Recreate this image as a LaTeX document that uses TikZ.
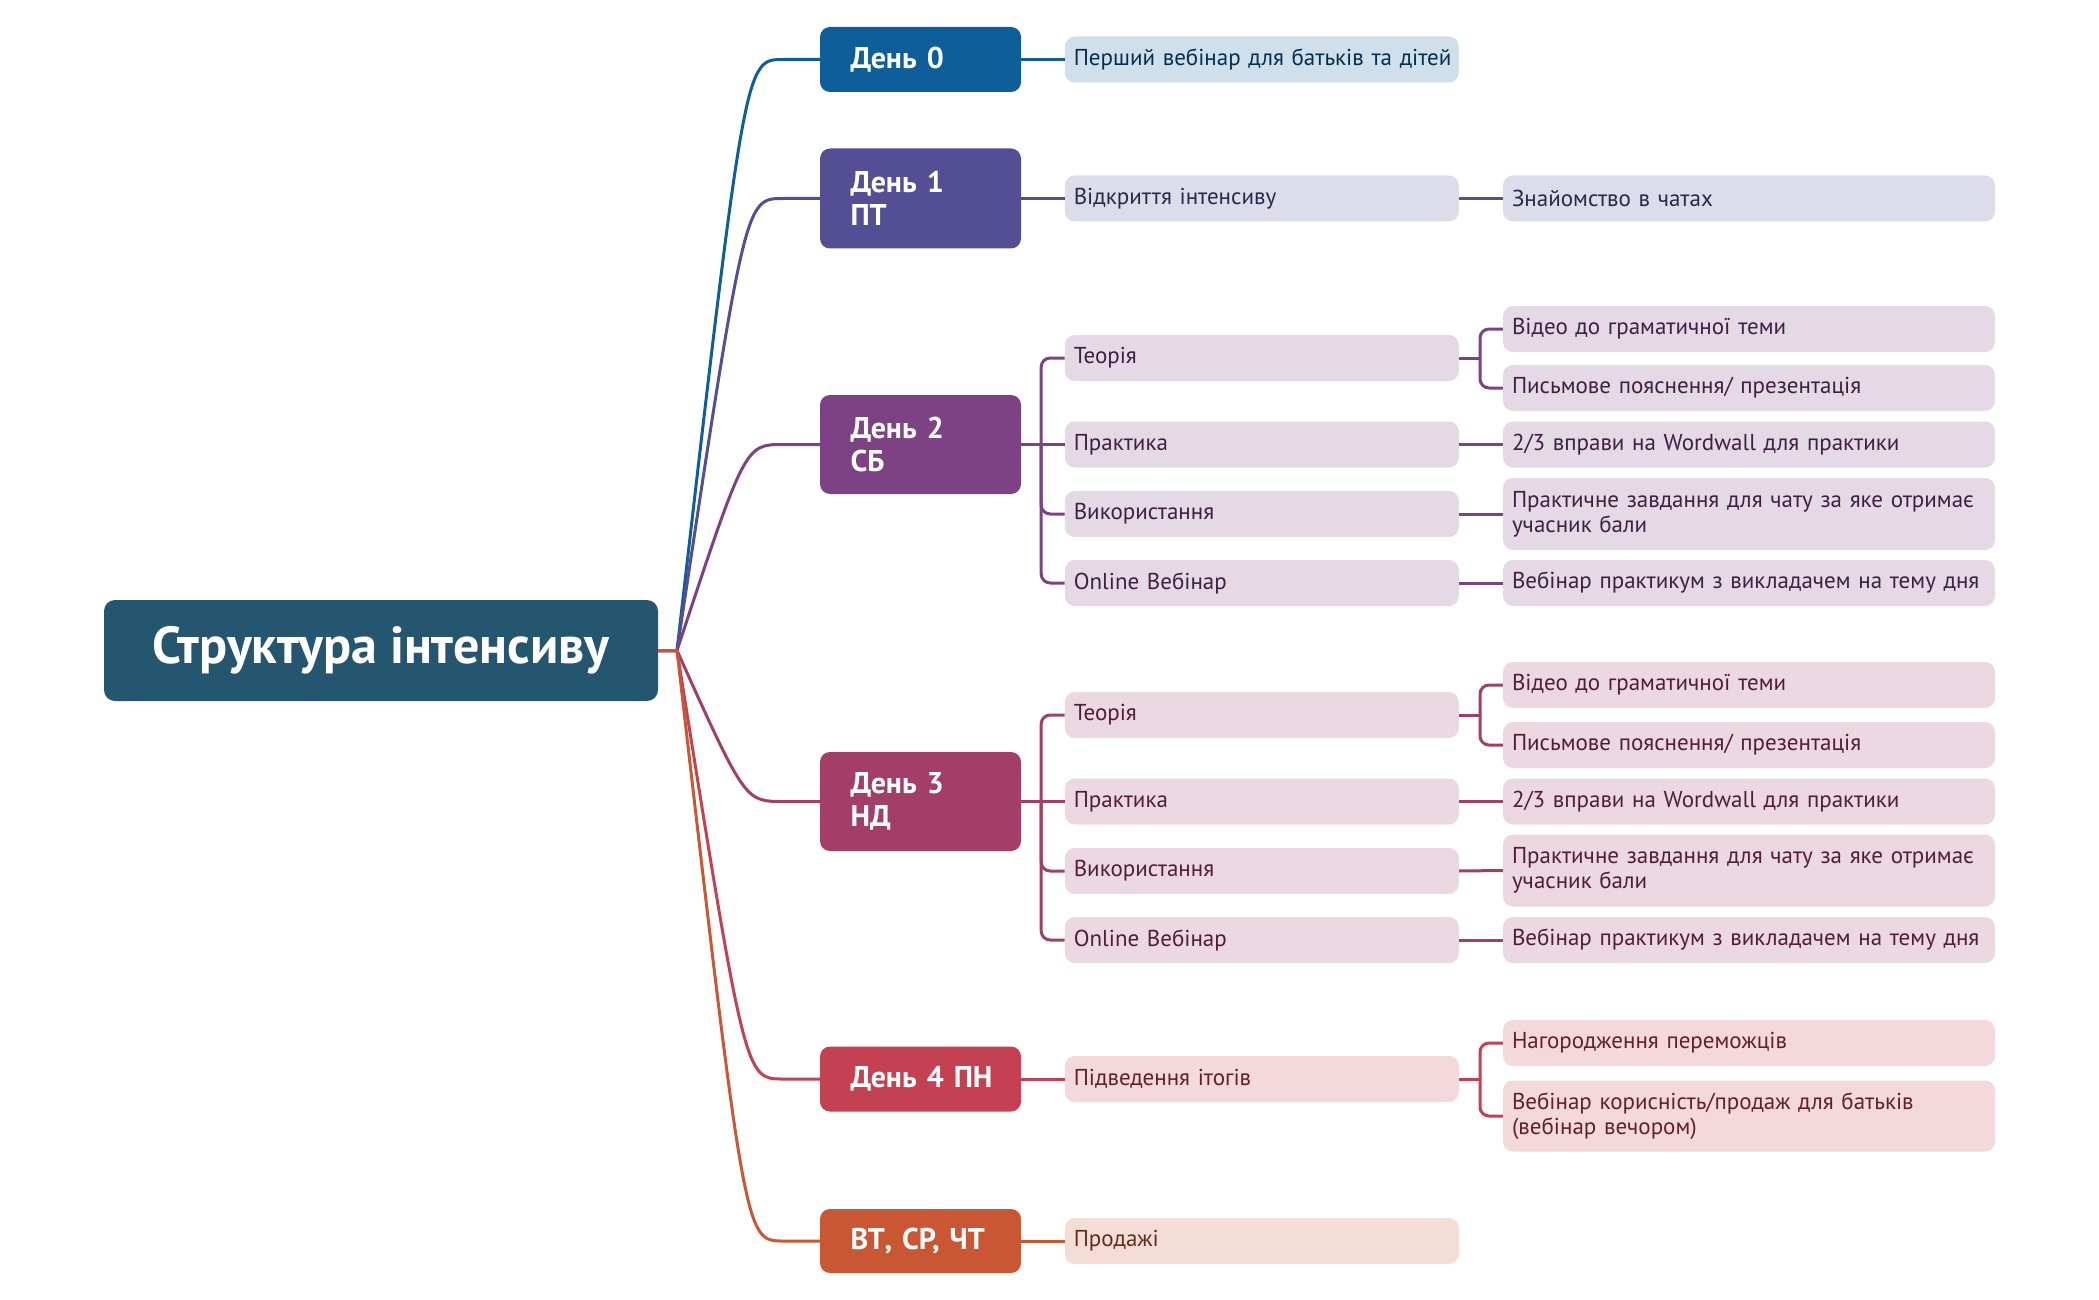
\documentclass[tikz,border=0pt]{standalone}
\usepackage{fontspec}
\setmainfont{PT Sans}
\usetikzlibrary{calc}
\definecolor{cRoot}{HTML}{24566F}
\definecolor{cA}{HTML}{0D5E99}
\definecolor{cB}{HTML}{544F94}
\definecolor{cC}{HTML}{7C4284}
\definecolor{cD}{HTML}{A23E67}
\definecolor{cE}{HTML}{C44152}
\definecolor{cF}{HTML}{C95734}
\tikzset{
  rootbox/.style={rounded corners=11pt, fill=cRoot, text=white, minimum width=554pt, minimum height=101pt,
    font=\fontsize{52pt}{55pt}\selectfont\bfseries, inner sep=0pt},
  daybox/.style={rounded corners=10pt, fill=#1, text=white, text width=140pt, inner xsep=30.5pt, inner ysep=0pt,
    align=left, font=\fontsize{30pt}{33pt}\selectfont\bfseries},
  subbox/.style={rounded corners=10pt, fill=#1!20!white, text=#1!50!black, text width=376pt, inner xsep=9pt,
    inner ysep=0pt, minimum height=46pt, align=left, font=\fontsize{23pt}{25pt}\selectfont},
  leafbox/.style={rounded corners=10pt, fill=#1!20!white, text=#1!50!black, text width=474pt, inner xsep=9pt,
    inner ysep=0pt, minimum height=46pt, align=left, font=\fontsize{23pt}{25pt}\selectfont},
  conn/.style={draw=#1, line width=3pt},
  fork/.style={draw=#1, line width=3pt, rounded corners=9pt},
}
\begin{document}
\begin{tikzpicture}[x=1pt,y=-1pt]
\useasboundingbox (0,0) rectangle (2099,1300);
% root
\node[rootbox] (root) at (381,650.5) {Структура інтенсиву};
\coordinate (hub) at (677,650.5);
\coordinate (cx) at (745,0);
\coordinate (hx) at (783,0);
% day boxes
\node[daybox=cA, minimum height=65pt] (d0) at (920.5,59.5) {\mbox{День 0}};
\node[daybox=cB, minimum height=100pt] (d1) at (920.5,198.5) {\mbox{День 1}\\ПТ};
\node[daybox=cC, minimum height=99pt] (d2) at (920.5,444.5) {\mbox{День 2}\\СБ};
\node[daybox=cD, minimum height=99pt] (d3) at (920.5,801.5) {\mbox{День 3}\\НД};
\node[daybox=cE, minimum height=65pt] (d4) at (920.5,1079) {\mbox{День 4 ПН}};
\node[daybox=cF, minimum height=64pt] (d5) at (920.5,1241) {\mbox{ВТ, СР, ЧТ}};
% level 2
\node[subbox=cA] (a1) at (1261.8,59.5) {\mbox{Перший вебінар для батьків та дітей}};
\node[subbox=cB] (b1) at (1261.8,198.5) {Відкриття інтенсиву};
\node[subbox=cC] (c1) at (1261.8,358) {Теорія};
\node[subbox=cC] (c2) at (1261.8,444.5) {Практика};
\node[subbox=cC] (c3) at (1261.8,514) {Використання};
\node[subbox=cC] (c4) at (1261.8,583) {Online Вебінар};
\node[subbox=cD] (e1) at (1261.8,715) {Теорія};
\node[subbox=cD] (e2) at (1261.8,801.5) {Практика};
\node[subbox=cD] (e3) at (1261.8,871) {Використання};
\node[subbox=cD] (e4) at (1261.8,940) {Online Вебінар};
\node[subbox=cE] (g1) at (1261.8,1079) {Підведення ітогів};
\node[subbox=cF] (h1) at (1261.8,1241) {Продажі};
% level 3
\node[leafbox=cB] (b1a) at (1749,198.5) {Знайомство в чатах};
\node[leafbox=cC] (c1a) at (1749,329) {Відео до граматичної теми};
\node[leafbox=cC] (c1b) at (1749,388) {Письмове пояснення/ презентація};
\node[leafbox=cC] (c2a) at (1749,444.5) {2/3 вправи на Wordwall для практики};
\node[leafbox=cC, minimum height=72pt] (c3a) at (1749,514) {\mbox{Практичне завдання для чату за яке отримає}\\учасник бали};
\node[leafbox=cC] (c4a) at (1749,583) {\mbox{Вебінар практикум з викладачем на тему дня}};
\node[leafbox=cD] (e1a) at (1749,685) {Відео до граматичної теми};
\node[leafbox=cD] (e1b) at (1749,745) {Письмове пояснення/ презентація};
\node[leafbox=cD] (e2a) at (1749,801.5) {2/3 вправи на Wordwall для практики};
\node[leafbox=cD, minimum height=72pt] (e3a) at (1749,870.5) {\mbox{Практичне завдання для чату за яке отримає}\\учасник бали};
\node[leafbox=cD] (e4a) at (1749,940) {\mbox{Вебінар практикум з викладачем на тему дня}};
\node[leafbox=cE] (g1a) at (1749,1043) {Нагородження переможців};
\node[leafbox=cE, minimum height=71pt] (g1b) at (1749,1116) {\mbox{Вебінар корисність/продаж для батьків}\\(вебінар вечором)};
% root to days
\foreach \d/\c in {d0/cA,d1/cB,d2/cC,d3/cD,d4/cE,d5/cF}{
  \draw[conn=\c] (root.east) -- (hub) .. controls (\d.west -| cx) and (\d.west -| cx) .. (\d.west -| hx) -- (\d.west);
}
% day 0, day 1
\draw[conn=cA] (d0.east) -- (a1.west);
\draw[conn=cB] (d1.east) -- (b1.west);
\draw[conn=cB] (b1.east) -- (b1a.west);
% day 2
\draw[conn=cC] (d2.east) -- ++(20,0) coordinate (s2);
\draw[conn=cC] (s2) -- (c2.west);
\draw[fork=cC] (s2) |- (c1.west);
\draw[fork=cC] (s2) |- (c3.west);
\draw[fork=cC] (s2) |- (c4.west);
\draw[conn=cC] (c1.east) -- ++(21,0) coordinate (f2);
\draw[fork=cC] (f2) |- (c1a.west);
\draw[fork=cC] (f2) |- (c1b.west);
\draw[conn=cC] (c2.east) -- (c2a.west);
\draw[conn=cC] (c3.east) -- (c3a.west);
\draw[conn=cC] (c4.east) -- (c4a.west);
% day 3
\draw[conn=cD] (d3.east) -- ++(20,0) coordinate (s3);
\draw[conn=cD] (s3) -- (e2.west);
\draw[fork=cD] (s3) |- (e1.west);
\draw[fork=cD] (s3) |- (e3.west);
\draw[fork=cD] (s3) |- (e4.west);
\draw[conn=cD] (e1.east) -- ++(21,0) coordinate (f3);
\draw[fork=cD] (f3) |- (e1a.west);
\draw[fork=cD] (f3) |- (e1b.west);
\draw[conn=cD] (e2.east) -- (e2a.west);
\draw[conn=cD] (e3.east) -- (e3a.west);
\draw[conn=cD] (e4.east) -- (e4a.west);
% day 4
\draw[conn=cE] (d4.east) -- (g1.west);
\draw[conn=cE] (g1.east) -- ++(21,0) coordinate (f4);
\draw[fork=cE] (f4) |- (g1a.west);
\draw[fork=cE] (f4) |- (g1b.west);
% day 5
\draw[conn=cF] (d5.east) -- (h1.west);
\end{tikzpicture}
\end{document}
